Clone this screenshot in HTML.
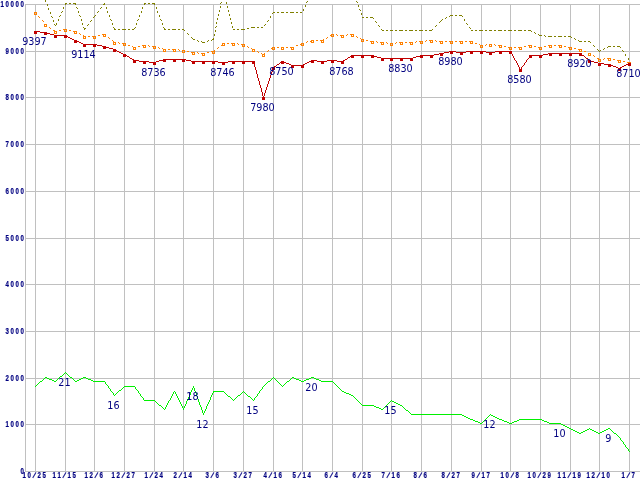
<!DOCTYPE html>
<html><head><meta charset="utf-8"><title>chart</title>
<style>
html,body{margin:0;padding:0;background:#fff;}
body{width:640px;height:480px;overflow:hidden;}
svg{display:block;}
.ax{font-family:"Liberation Sans",Arial,sans-serif;font-weight:bold;font-size:6.1px;fill:#000080;stroke:#000080;stroke-width:0.15px;}
.dl{font-family:"DejaVu Sans Condensed","DejaVu Sans","Liberation Sans",sans-serif;font-stretch:condensed;font-size:10.7px;fill:#000080;text-anchor:middle;}
</style></head><body>
<svg width="640" height="480" viewBox="0 0 640 480">
<rect width="640" height="480" fill="#fff"/>
<g fill="#c0c0c0" shape-rendering="crispEdges">
<rect x="25" y="4" width="615" height="1"/>
<rect x="25" y="51" width="615" height="1"/>
<rect x="25" y="97" width="615" height="1"/>
<rect x="25" y="144" width="615" height="1"/>
<rect x="25" y="191" width="615" height="1"/>
<rect x="25" y="238" width="615" height="1"/>
<rect x="25" y="284" width="615" height="1"/>
<rect x="25" y="331" width="615" height="1"/>
<rect x="25" y="378" width="615" height="1"/>
<rect x="25" y="424" width="615" height="1"/>
<rect x="25" y="471" width="615" height="1"/>
<rect x="25" y="4" width="1" height="468"/>
<rect x="35" y="4" width="1" height="468"/>
<rect x="65" y="4" width="1" height="468"/>
<rect x="94" y="4" width="1" height="468"/>
<rect x="124" y="4" width="1" height="468"/>
<rect x="154" y="4" width="1" height="468"/>
<rect x="183" y="4" width="1" height="468"/>
<rect x="213" y="4" width="1" height="468"/>
<rect x="243" y="4" width="1" height="468"/>
<rect x="273" y="4" width="1" height="468"/>
<rect x="302" y="4" width="1" height="468"/>
<rect x="332" y="4" width="1" height="468"/>
<rect x="362" y="4" width="1" height="468"/>
<rect x="391" y="4" width="1" height="468"/>
<rect x="421" y="4" width="1" height="468"/>
<rect x="451" y="4" width="1" height="468"/>
<rect x="481" y="4" width="1" height="468"/>
<rect x="510" y="4" width="1" height="468"/>
<rect x="540" y="4" width="1" height="468"/>
<rect x="570" y="4" width="1" height="468"/>
<rect x="599" y="4" width="1" height="468"/>
<rect x="629" y="4" width="1" height="468"/>
</g>
<g shape-rendering="crispEdges">
<path fill="#808000" d="M45 0h1v2h-1zM47 4h1v2h-1zM48 8h1v2h-1zM50 12h1v2h-1zM51 16h1v1h-1zM52 17h1v1h-1zM53 20h1v2h-1zM54 24h1v1h-1zM55 25h1v1h-1zM56 23h1v2h-1zM58 19h1v2h-1zM59 16h1v1h-1zM60 15h1v1h-1zM61 12h1v1h-1zM62 11h1v1h-1zM63 7h1v2h-1zM65 3h2v1h-2zM65 4h1v1h-1zM69 3h2v1h-2zM73 3h3v1h-3zM75 4h1v1h-1zM76 7h1v1h-1zM77 8h1v1h-1zM78 11h1v2h-1zM79 15h1v1h-1zM80 16h1v1h-1zM81 19h1v2h-1zM82 23h1v2h-1zM83 27h1v1h-1zM84 28h2v1h-2zM84 29h1v1h-1zM87 25h1v1h-1zM88 24h1v1h-1zM90 21h1v1h-1zM91 20h1v1h-1zM93 17h1v1h-1zM94 16h1v1h-1zM95 15h1v1h-1zM97 12h1v1h-1zM98 11h1v1h-1zM100 8h1v1h-1zM101 7h1v1h-1zM103 4h2v1h-2zM104 3h1v1h-1zM106 7h1v2h-1zM107 11h1v2h-1zM109 15h1v2h-1zM110 19h1v1h-1zM111 20h1v1h-1zM112 23h1v2h-1zM113 27h1v1h-1zM114 28h1v1h-1zM114 29h2v1h-2zM118 29h2v1h-2zM122 29h4v1h-4zM128 29h2v1h-2zM132 29h2v1h-2zM134 28h1v1h-1zM135 27h1v1h-1zM136 23h1v2h-1zM137 20h1v1h-1zM138 19h1v1h-1zM139 15h1v2h-1zM141 11h1v2h-1zM142 7h1v2h-1zM144 3h2v1h-2zM144 4h1v1h-1zM148 3h2v1h-2zM152 3h3v1h-3zM154 4h1v1h-1zM156 7h1v2h-1zM157 11h1v2h-1zM159 15h1v2h-1zM160 19h1v1h-1zM161 20h1v1h-1zM162 23h1v2h-1zM163 27h1v1h-1zM164 28h1v1h-1zM164 29h2v1h-2zM168 29h2v1h-2zM172 29h4v1h-4zM178 29h2v1h-2zM182 29h2v1h-2zM184 30h1v1h-1zM187 33h1v1h-1zM188 34h1v1h-1zM191 37h1v1h-1zM192 38h1v1h-1zM193 39h2v1h-2zM197 40h1v1h-1zM198 41h1v1h-1zM201 41h1v1h-1zM202 42h3v1h-3zM207 41h1v1h-1zM208 40h1v1h-1zM211 40h1v1h-1zM212 39h2v1h-2zM213 38h1v1h-1zM214 34h1v2h-1zM215 27h1v1h-1zM215 30h1v2h-1zM216 22h1v2h-1zM216 26h1v1h-1zM217 18h1v2h-1zM218 14h1v2h-1zM219 10h1v2h-1zM220 3h1v1h-1zM220 6h1v2h-1zM221 2h1v1h-1zM226 2h1v2h-1zM227 6h1v2h-1zM228 10h1v2h-1zM229 14h1v2h-1zM230 18h1v2h-1zM231 22h1v2h-1zM232 26h1v2h-1zM233 29h2v1h-2zM237 29h2v1h-2zM241 29h4v1h-4zM247 28h2v1h-2zM251 27h4v1h-4zM257 27h2v1h-2zM261 27h2v1h-2zM264 25h1v1h-1zM265 24h1v1h-1zM267 21h1v1h-1zM268 20h1v1h-1zM270 16h1v2h-1zM272 13h1v1h-1zM273 12h2v1h-2zM277 12h2v1h-2zM281 12h3v1h-3zM286 12h2v1h-2zM290 12h4v1h-4zM296 12h2v1h-2zM300 12h2v1h-2zM303 9h1v2h-1zM305 5h1v2h-1zM306 2h1v1h-1zM307 1h1v1h-1zM356 1h1v1h-1zM357 2h1v1h-1zM358 5h1v2h-1zM359 9h1v1h-1zM360 10h1v1h-1zM361 13h1v2h-1zM362 17h2v1h-2zM366 17h2v1h-2zM370 17h3v1h-3zM373 18h1v1h-1zM375 21h1v1h-1zM376 22h1v1h-1zM378 25h1v1h-1zM379 26h1v1h-1zM381 29h1v1h-1zM382 30h2v1h-2zM386 30h2v1h-2zM390 30h3v1h-3zM395 30h2v1h-2zM399 30h4v1h-4zM405 30h2v1h-2zM409 30h4v1h-4zM415 30h2v1h-2zM419 30h4v1h-4zM425 30h2v1h-2zM429 30h3v1h-3zM432 29h1v1h-1zM435 26h1v1h-1zM436 25h1v1h-1zM439 22h1v1h-1zM440 21h1v1h-1zM441 20h1v1h-1zM442 19h1v1h-1zM445 18h1v1h-1zM446 17h1v1h-1zM449 16h1v1h-1zM450 15h3v1h-3zM455 15h2v1h-2zM459 15h3v1h-3zM462 16h1v1h-1zM464 19h1v2h-1zM466 23h1v1h-1zM467 24h1v1h-1zM469 27h1v1h-1zM470 28h1v1h-1zM471 30h2v1h-2zM475 30h2v1h-2zM479 30h4v1h-4zM485 30h2v1h-2zM489 30h3v1h-3zM494 30h2v1h-2zM498 30h4v1h-4zM504 30h2v1h-2zM508 30h4v1h-4zM514 30h2v1h-2zM518 30h4v1h-4zM524 30h2v1h-2zM528 30h3v1h-3zM531 31h1v1h-1zM534 32h1v1h-1zM535 33h1v1h-1zM538 34h1v1h-1zM539 35h3v1h-3zM544 35h1v1h-1zM545 36h1v1h-1zM548 36h4v1h-4zM554 36h2v1h-2zM558 36h4v1h-4zM564 36h2v1h-2zM568 36h3v1h-3zM571 37h1v1h-1zM574 38h1v1h-1zM575 39h1v1h-1zM578 40h1v1h-1zM579 41h3v1h-3zM584 41h2v1h-2zM588 41h2v1h-2zM590 42h1v1h-1zM593 45h1v1h-1zM594 46h1v1h-1zM597 49h1v1h-1zM598 50h1v1h-1zM599 51h1v1h-1zM600 50h1v1h-1zM603 49h1v1h-1zM604 48h1v1h-1zM607 47h1v1h-1zM608 46h3v1h-3zM613 46h2v1h-2zM617 46h3v1h-3zM620 47h1v1h-1zM622 50h1v1h-1zM623 51h1v1h-1zM625 54h1v2h-1zM628 58h1v2h-1z"/>
<path fill="#ff8000" d="M35 12h1v1h-1zM36 13h1v1h-1zM38 16h1v1h-1zM39 17h1v1h-1zM42 20h1v1h-1zM43 21h1v1h-1zM45 24h1v1h-1zM46 25h1v1h-1zM49 27h1v1h-1zM50 28h1v1h-1zM53 30h2v1h-2zM55 31h2v1h-2zM59 30h2v1h-2zM63 29h4v1h-4zM69 30h2v1h-2zM73 31h3v1h-3zM76 32h1v1h-1zM79 33h1v1h-1zM80 34h1v1h-1zM83 35h1v1h-1zM84 36h2v1h-2zM88 36h2v1h-2zM92 36h4v1h-4zM98 35h2v1h-2zM102 34h3v1h-3zM105 35h1v1h-1zM108 37h1v1h-1zM109 38h1v1h-1zM112 40h1v1h-1zM113 41h1v1h-1zM114 42h2v1h-2zM118 42h1v1h-1zM119 43h1v1h-1zM122 43h4v1h-4zM128 45h2v1h-2zM132 46h1v1h-1zM133 47h3v1h-3zM138 46h2v1h-2zM142 45h4v1h-4zM148 45h1v1h-1zM149 46h1v1h-1zM152 46h4v1h-4zM158 47h1v1h-1zM159 48h1v1h-1zM162 48h1v1h-1zM163 49h3v1h-3zM168 49h2v1h-2zM172 49h4v1h-4zM178 49h1v1h-1zM179 50h1v1h-1zM182 50h3v1h-3zM187 51h2v1h-2zM191 52h4v1h-4zM197 52h1v1h-1zM198 53h1v1h-1zM201 53h4v1h-4zM207 52h2v1h-2zM211 51h3v1h-3zM214 50h1v1h-1zM217 48h1v1h-1zM218 47h1v1h-1zM221 45h1v1h-1zM222 44h1v1h-1zM223 43h2v1h-2zM227 43h2v1h-2zM231 43h4v1h-4zM237 43h1v1h-1zM238 44h1v1h-1zM241 44h3v1h-3zM244 45h1v1h-1zM247 46h1v1h-1zM248 47h1v1h-1zM251 48h1v1h-1zM252 49h2v1h-2zM254 50h1v1h-1zM257 51h1v1h-1zM258 52h1v1h-1zM261 53h1v1h-1zM262 54h2v1h-2zM264 53h1v1h-1zM267 51h1v1h-1zM268 50h1v1h-1zM271 48h2v1h-2zM273 47h2v1h-2zM277 47h2v1h-2zM281 47h3v1h-3zM286 47h2v1h-2zM290 47h4v1h-4zM296 45h2v1h-2zM300 44h1v1h-1zM301 43h3v1h-3zM306 42h1v1h-1zM307 41h1v1h-1zM310 41h1v1h-1zM311 40h3v1h-3zM316 40h2v1h-2zM320 40h3v1h-3zM323 39h1v1h-1zM326 38h1v1h-1zM327 37h1v1h-1zM330 35h2v1h-2zM332 34h2v1h-2zM336 34h1v1h-1zM337 35h1v1h-1zM340 35h4v1h-4zM346 35h1v1h-1zM347 34h1v1h-1zM350 34h3v1h-3zM353 35h1v1h-1zM356 36h1v1h-1zM357 37h1v1h-1zM360 38h1v1h-1zM361 39h3v1h-3zM366 40h2v1h-2zM370 41h4v1h-4zM376 41h1v1h-1zM377 42h1v1h-1zM380 42h4v1h-4zM386 42h1v1h-1zM387 43h1v1h-1zM390 43h3v1h-3zM395 43h1v1h-1zM396 42h1v1h-1zM399 42h4v1h-4zM405 42h2v1h-2zM409 42h4v1h-4zM415 42h1v1h-1zM416 41h1v1h-1zM419 41h4v1h-4zM425 41h1v1h-1zM426 40h1v1h-1zM429 40h4v1h-4zM435 40h1v1h-1zM436 41h1v1h-1zM439 41h4v1h-4zM445 41h2v1h-2zM449 41h4v1h-4zM455 41h2v1h-2zM459 41h4v1h-4zM465 41h2v1h-2zM469 41h4v1h-4zM475 43h2v1h-2zM479 44h1v1h-1zM480 45h3v1h-3zM485 45h1v1h-1zM486 44h1v1h-1zM489 44h3v1h-3zM494 44h1v1h-1zM495 45h1v1h-1zM498 45h4v1h-4zM504 46h2v1h-2zM508 47h4v1h-4zM514 47h2v1h-2zM518 47h4v1h-4zM524 46h2v1h-2zM528 45h4v1h-4zM534 46h2v1h-2zM538 47h4v1h-4zM544 46h2v1h-2zM548 45h4v1h-4zM554 45h2v1h-2zM558 45h4v1h-4zM564 46h2v1h-2zM568 47h4v1h-4zM574 48h2v1h-2zM578 49h4v1h-4zM584 51h2v1h-2zM588 53h2v1h-2zM590 54h1v1h-1zM593 55h1v1h-1zM594 56h1v1h-1zM597 58h2v1h-2zM599 59h2v1h-2zM603 59h1v1h-1zM604 58h1v1h-1zM607 58h4v1h-4zM613 59h2v1h-2zM617 60h4v1h-4zM623 61h2v1h-2zM627 62h2v1h-2z"/>
<path fill="#ff8000" fill-rule="evenodd" d="M34 12h3v3h-3zM35 13v1h1v-1zM44 24h3v3h-3zM45 25v1h1v-1zM54 31h3v3h-3zM55 32v1h1v-1zM64 29h3v3h-3zM65 30v1h1v-1zM74 31h3v3h-3zM75 32v1h1v-1zM83 36h3v3h-3zM84 37v1h1v-1zM93 36h3v3h-3zM94 37v1h1v-1zM103 34h3v3h-3zM104 35v1h1v-1zM113 42h3v3h-3zM114 43v1h1v-1zM123 43h3v3h-3zM124 44v1h1v-1zM133 47h3v3h-3zM134 48v1h1v-1zM143 45h3v3h-3zM144 46v1h1v-1zM153 46h3v3h-3zM154 47v1h1v-1zM163 49h3v3h-3zM164 50v1h1v-1zM173 49h3v3h-3zM174 50v1h1v-1zM182 50h3v3h-3zM183 51v1h1v-1zM192 52h3v3h-3zM193 53v1h1v-1zM202 53h3v3h-3zM203 54v1h1v-1zM212 51h3v3h-3zM213 52v1h1v-1zM222 43h3v3h-3zM223 44v1h1v-1zM232 43h3v3h-3zM233 44v1h1v-1zM242 44h3v3h-3zM243 45v1h1v-1zM252 49h3v3h-3zM253 50v1h1v-1zM262 54h3v3h-3zM263 55v1h1v-1zM272 47h3v3h-3zM273 48v1h1v-1zM281 47h3v3h-3zM282 48v1h1v-1zM291 47h3v3h-3zM292 48v1h1v-1zM301 43h3v3h-3zM302 44v1h1v-1zM311 40h3v3h-3zM312 41v1h1v-1zM321 40h3v3h-3zM322 41v1h1v-1zM331 34h3v3h-3zM332 35v1h1v-1zM341 35h3v3h-3zM342 36v1h1v-1zM351 34h3v3h-3zM352 35v1h1v-1zM361 39h3v3h-3zM362 40v1h1v-1zM371 41h3v3h-3zM372 42v1h1v-1zM381 42h3v3h-3zM382 43v1h1v-1zM390 43h3v3h-3zM391 44v1h1v-1zM400 42h3v3h-3zM401 43v1h1v-1zM410 42h3v3h-3zM411 43v1h1v-1zM420 41h3v3h-3zM421 42v1h1v-1zM430 40h3v3h-3zM431 41v1h1v-1zM440 41h3v3h-3zM441 42v1h1v-1zM450 41h3v3h-3zM451 42v1h1v-1zM460 41h3v3h-3zM461 42v1h1v-1zM470 41h3v3h-3zM471 42v1h1v-1zM480 45h3v3h-3zM481 46v1h1v-1zM489 44h3v3h-3zM490 45v1h1v-1zM499 45h3v3h-3zM500 46v1h1v-1zM509 47h3v3h-3zM510 48v1h1v-1zM519 47h3v3h-3zM520 48v1h1v-1zM529 45h3v3h-3zM530 46v1h1v-1zM539 47h3v3h-3zM540 48v1h1v-1zM549 45h3v3h-3zM550 46v1h1v-1zM559 45h3v3h-3zM560 46v1h1v-1zM569 47h3v3h-3zM570 48v1h1v-1zM579 49h3v3h-3zM580 50v1h1v-1zM588 53h3v3h-3zM589 54v1h1v-1zM598 59h3v3h-3zM599 60v1h1v-1zM608 58h3v3h-3zM609 59v1h1v-1zM618 60h3v3h-3zM619 61v1h1v-1zM628 62h3v3h-3zM629 63v1h1v-1z"/>
<path fill="#c00000" d="M35 31h5v1h-5zM40 32h7v1h-7zM47 33h3v1h-3zM50 34h4v1h-4zM54 35h12v1h-12zM66 36h2v1h-2zM68 37h2v1h-2zM70 38h2v1h-2zM72 39h2v1h-2zM74 40h3v1h-3zM77 41h2v1h-2zM79 42h2v1h-2zM81 43h2v1h-2zM83 44h14v1h-14zM97 45h5v1h-5zM102 46h4v1h-4zM106 47h3v1h-3zM109 48h4v1h-4zM113 49h2v1h-2zM115 50h2v1h-2zM117 51h2v1h-2zM119 52h2v1h-2zM121 53h2v1h-2zM123 54h2v1h-2zM125 55h2v1h-2zM127 56h2v1h-2zM129 57h1v1h-1zM130 58h2v1h-2zM132 59h2v1h-2zM134 60h5v1h-5zM139 61h10v1h-10zM149 62h7v1h-7zM156 61h3v1h-3zM159 60h4v1h-4zM163 59h23v1h-23zM186 60h5v1h-5zM191 61h27v1h-27zM218 62h10v1h-10zM228 61h26v1h-26zM253 62h1v1h-1zM254 63h1v4h-1zM255 67h1v3h-1zM256 70h1v4h-1zM257 74h1v4h-1zM258 78h1v3h-1zM259 81h1v4h-1zM260 85h1v3h-1zM261 88h1v4h-1zM262 92h1v4h-1zM263 96h1v2h-1zM264 93h1v3h-1zM265 90h1v3h-1zM266 87h1v3h-1zM267 84h1v3h-1zM268 81h1v3h-1zM269 78h1v3h-1zM270 75h1v3h-1zM271 72h1v3h-1zM272 69h1v3h-1zM273 67h1v2h-1zM274 66h2v1h-2zM276 65h1v1h-1zM277 64h2v1h-2zM279 63h1v1h-1zM280 62h2v1h-2zM282 61h2v1h-2zM284 62h2v1h-2zM286 63h3v1h-3zM289 64h2v1h-2zM291 65h12v1h-12zM303 64h2v1h-2zM305 63h2v1h-2zM307 62h2v1h-2zM309 61h2v1h-2zM311 60h6v1h-6zM317 61h10v1h-10zM327 60h10v1h-10zM337 61h6v1h-6zM343 60h2v1h-2zM345 59h2v1h-2zM347 58h1v1h-1zM348 57h2v1h-2zM350 56h2v1h-2zM352 55h22v1h-22zM374 56h3v1h-3zM377 57h4v1h-4zM381 58h32v1h-32zM413 57h3v1h-3zM416 56h4v1h-4zM420 55h14v1h-14zM434 54h5v1h-5zM439 53h5v1h-5zM444 52h5v1h-5zM449 51h7v1h-7zM456 52h10v1h-10zM466 51h20v1h-20zM486 52h9v1h-9zM495 51h16v1h-16zM511 52h1v2h-1zM512 54h1v2h-1zM513 56h1v2h-1zM514 58h1v2h-1zM515 60h1v1h-1zM516 61h1v2h-1zM517 63h1v2h-1zM518 65h1v2h-1zM519 67h1v2h-1zM520 69h1v1h-1zM521 67h1v2h-1zM522 66h1v1h-1zM523 65h1v1h-1zM524 63h1v2h-1zM525 62h1v1h-1zM526 60h1v2h-1zM527 59h1v1h-1zM528 58h1v1h-1zM529 56h1v2h-1zM530 55h13v1h-13zM543 54h5v1h-5zM548 53h33v1h-33zM581 54h1v1h-1zM582 55h2v1h-2zM584 56h1v1h-1zM585 57h1v1h-1zM586 58h2v1h-2zM588 59h1v1h-1zM589 60h2v1h-2zM591 61h3v1h-3zM594 62h4v1h-4zM598 63h6v1h-6zM604 64h7v1h-7zM611 65h2v1h-2zM613 66h3v1h-3zM616 67h2v1h-2zM618 68h2v1h-2zM620 67h2v1h-2zM622 66h2v1h-2zM624 65h2v1h-2zM626 64h2v1h-2zM628 63h2v1h-2z"/>
<path fill="#c00000" d="M34 31h3v3h-3zM44 32h3v3h-3zM54 35h3v3h-3zM64 35h3v3h-3zM74 40h3v3h-3zM83 44h3v3h-3zM93 44h3v3h-3zM103 46h3v3h-3zM113 49h3v3h-3zM123 54h3v3h-3zM133 60h3v3h-3zM143 61h3v3h-3zM153 62h3v3h-3zM163 59h3v3h-3zM173 59h3v3h-3zM182 59h3v3h-3zM192 61h3v3h-3zM202 61h3v3h-3zM212 61h3v3h-3zM222 62h3v3h-3zM232 61h3v3h-3zM242 61h3v3h-3zM252 61h3v3h-3zM262 97h3v3h-3zM272 67h3v3h-3zM281 61h3v3h-3zM291 65h3v3h-3zM301 65h3v3h-3zM311 60h3v3h-3zM321 61h3v3h-3zM331 60h3v3h-3zM341 61h3v3h-3zM351 55h3v3h-3zM361 55h3v3h-3zM371 55h3v3h-3zM381 58h3v3h-3zM390 58h3v3h-3zM400 58h3v3h-3zM410 58h3v3h-3zM420 55h3v3h-3zM430 55h3v3h-3zM440 53h3v3h-3zM450 51h3v3h-3zM460 52h3v3h-3zM470 51h3v3h-3zM480 51h3v3h-3zM489 52h3v3h-3zM499 51h3v3h-3zM509 51h3v3h-3zM519 69h3v3h-3zM529 55h3v3h-3zM539 55h3v3h-3zM549 53h3v3h-3zM559 53h3v3h-3zM569 53h3v3h-3zM579 53h3v3h-3zM588 60h3v3h-3zM598 63h3v3h-3zM608 64h3v3h-3zM618 68h3v3h-3zM628 63h3v3h-3z"/>
<path fill="#00f000" d="M35 386h1v1h-1zM36 385h1v1h-1zM37 384h1v1h-1zM38 383h1v1h-1zM39 382h1v1h-1zM40 381h2v1h-2zM42 380h1v1h-1zM43 379h1v1h-1zM44 378h1v1h-1zM45 377h2v1h-2zM47 378h2v1h-2zM49 379h3v1h-3zM52 380h2v1h-2zM54 381h2v1h-2zM56 380h1v1h-1zM57 379h1v1h-1zM58 378h1v1h-1zM59 377h1v1h-1zM60 376h2v1h-2zM62 375h1v1h-1zM63 374h1v1h-1zM64 373h1v1h-1zM65 372h1v1h-1zM66 373h1v1h-1zM67 374h1v1h-1zM68 375h1v1h-1zM69 376h1v1h-1zM70 377h2v1h-2zM72 378h1v1h-1zM73 379h1v1h-1zM74 380h1v1h-1zM75 381h2v1h-2zM77 380h2v1h-2zM79 379h2v1h-2zM81 378h2v1h-2zM83 377h3v1h-3zM86 378h2v1h-2zM88 379h3v1h-3zM91 380h2v1h-2zM93 381h12v1h-12zM105 382h1v2h-1zM106 384h1v1h-1zM107 385h1v1h-1zM108 386h1v2h-1zM109 388h1v1h-1zM110 389h1v2h-1zM111 391h1v1h-1zM112 392h1v1h-1zM113 393h1v2h-1zM114 395h1v1h-1zM115 394h1v1h-1zM116 393h1v1h-1zM117 392h1v1h-1zM118 391h1v1h-1zM119 390h2v1h-2zM121 389h1v1h-1zM122 388h1v1h-1zM123 387h1v1h-1zM124 386h11v1h-11zM135 387h1v2h-1zM136 389h1v1h-1zM137 390h1v1h-1zM138 391h1v2h-1zM139 393h1v1h-1zM140 394h1v2h-1zM141 396h1v1h-1zM142 397h1v1h-1zM143 398h1v2h-1zM144 400h11v1h-11zM155 401h1v1h-1zM156 402h1v1h-1zM157 403h1v1h-1zM158 404h1v1h-1zM159 405h2v1h-2zM161 406h1v1h-1zM162 407h1v1h-1zM163 408h1v1h-1zM164 409h1v1h-1zM165 407h1v2h-1zM166 405h1v2h-1zM167 403h1v2h-1zM168 401h1v2h-1zM169 400h1v1h-1zM170 398h1v2h-1zM171 396h1v2h-1zM172 394h1v2h-1zM173 392h1v2h-1zM174 391h1v1h-1zM175 392h1v2h-1zM176 394h1v2h-1zM177 396h1v2h-1zM178 398h1v2h-1zM179 400h1v2h-1zM180 402h1v2h-1zM181 404h1v2h-1zM182 406h1v2h-1zM183 408h1v2h-1zM184 406h1v2h-1zM185 404h1v2h-1zM186 401h1v3h-1zM187 399h1v2h-1zM188 397h1v2h-1zM189 395h1v2h-1zM190 392h1v3h-1zM191 390h1v2h-1zM192 388h1v2h-1zM193 386h1v2h-1zM194 388h1v3h-1zM195 391h1v2h-1zM196 393h1v3h-1zM197 396h1v3h-1zM198 399h1v3h-1zM199 402h1v3h-1zM200 405h1v2h-1zM201 407h1v3h-1zM202 410h1v3h-1zM203 413h1v2h-1zM204 411h1v2h-1zM205 409h1v2h-1zM206 406h1v3h-1zM207 404h1v2h-1zM208 402h1v2h-1zM209 400h1v2h-1zM210 397h1v3h-1zM211 395h1v2h-1zM212 393h1v2h-1zM213 391h11v1h-11zM213 392h1v1h-1zM224 392h1v1h-1zM225 393h1v1h-1zM226 394h1v1h-1zM227 395h1v1h-1zM228 396h2v1h-2zM230 397h1v1h-1zM231 398h1v1h-1zM232 399h1v1h-1zM233 400h1v1h-1zM234 399h1v1h-1zM235 398h1v1h-1zM236 397h1v1h-1zM237 396h1v1h-1zM238 395h2v1h-2zM240 394h1v1h-1zM241 393h1v1h-1zM242 392h1v1h-1zM243 391h1v1h-1zM244 392h1v1h-1zM245 393h1v1h-1zM246 394h1v1h-1zM247 395h1v1h-1zM248 396h2v1h-2zM250 397h1v1h-1zM251 398h1v1h-1zM252 399h1v1h-1zM253 400h1v1h-1zM254 398h1v2h-1zM255 397h1v1h-1zM256 396h1v1h-1zM257 394h1v2h-1zM258 393h1v1h-1zM259 391h1v2h-1zM260 390h1v1h-1zM261 389h1v1h-1zM262 387h1v2h-1zM263 386h1v1h-1zM264 385h1v1h-1zM265 384h1v1h-1zM266 383h1v1h-1zM267 382h1v1h-1zM268 381h2v1h-2zM270 380h1v1h-1zM271 379h1v1h-1zM272 378h1v1h-1zM273 377h1v1h-1zM274 378h1v1h-1zM275 379h1v1h-1zM276 380h1v1h-1zM277 381h1v1h-1zM278 382h1v1h-1zM279 383h1v1h-1zM280 384h1v1h-1zM281 385h1v1h-1zM282 386h1v1h-1zM283 385h1v1h-1zM284 384h1v1h-1zM285 383h1v1h-1zM286 382h1v1h-1zM287 381h2v1h-2zM289 380h1v1h-1zM290 379h1v1h-1zM291 378h1v1h-1zM292 377h2v1h-2zM294 378h2v1h-2zM296 379h3v1h-3zM299 380h2v1h-2zM301 381h3v1h-3zM304 380h2v1h-2zM306 379h3v1h-3zM309 378h2v1h-2zM311 377h3v1h-3zM314 378h2v1h-2zM316 379h3v1h-3zM319 380h2v1h-2zM321 381h12v1h-12zM333 382h1v1h-1zM334 383h1v1h-1zM335 384h1v1h-1zM336 385h1v1h-1zM337 386h1v1h-1zM338 387h1v1h-1zM339 388h1v1h-1zM340 389h1v1h-1zM341 390h1v1h-1zM342 391h2v1h-2zM344 392h2v1h-2zM346 393h3v1h-3zM349 394h2v1h-2zM351 395h2v1h-2zM353 396h1v1h-1zM354 397h1v1h-1zM355 398h1v1h-1zM356 399h1v1h-1zM357 400h1v1h-1zM358 401h1v1h-1zM359 402h1v1h-1zM360 403h1v1h-1zM361 404h1v1h-1zM362 405h12v1h-12zM374 406h2v1h-2zM376 407h3v1h-3zM379 408h2v1h-2zM381 409h2v1h-2zM383 408h1v1h-1zM384 407h1v1h-1zM385 406h1v1h-1zM386 405h1v1h-1zM387 404h1v1h-1zM388 403h1v1h-1zM389 402h1v1h-1zM390 401h1v1h-1zM391 400h1v1h-1zM392 401h2v1h-2zM394 402h2v1h-2zM396 403h2v1h-2zM398 404h2v1h-2zM400 405h2v1h-2zM402 406h1v1h-1zM403 407h1v1h-1zM404 408h1v1h-1zM405 409h1v1h-1zM406 410h2v1h-2zM408 411h1v1h-1zM409 412h1v1h-1zM410 413h1v1h-1zM411 414h51v1h-51zM462 415h2v1h-2zM464 416h2v1h-2zM466 417h2v1h-2zM468 418h2v1h-2zM470 419h3v1h-3zM473 420h2v1h-2zM475 421h3v1h-3zM478 422h2v1h-2zM480 423h2v1h-2zM482 422h1v1h-1zM483 421h1v1h-1zM484 420h1v1h-1zM485 419h1v1h-1zM486 418h1v1h-1zM487 417h1v1h-1zM488 416h1v1h-1zM489 415h1v1h-1zM490 414h1v1h-1zM491 415h2v1h-2zM493 416h2v1h-2zM495 417h2v1h-2zM497 418h2v1h-2zM499 419h3v1h-3zM502 420h2v1h-2zM504 421h3v1h-3zM507 422h2v1h-2zM509 423h3v1h-3zM512 422h2v1h-2zM514 421h3v1h-3zM517 420h2v1h-2zM519 419h23v1h-23zM542 420h2v1h-2zM544 421h3v1h-3zM547 422h2v1h-2zM549 423h12v1h-12zM561 424h2v1h-2zM563 425h2v1h-2zM565 426h2v1h-2zM567 427h2v1h-2zM569 428h2v1h-2zM571 429h2v1h-2zM573 430h2v1h-2zM575 431h2v1h-2zM577 432h2v1h-2zM579 433h2v1h-2zM581 432h2v1h-2zM583 431h2v1h-2zM585 430h2v1h-2zM587 429h2v1h-2zM589 428h1v1h-1zM590 429h2v1h-2zM592 430h2v1h-2zM594 431h2v1h-2zM596 432h2v1h-2zM598 433h2v1h-2zM600 432h2v1h-2zM602 431h2v1h-2zM604 430h2v1h-2zM606 429h2v1h-2zM608 428h2v1h-2zM610 429h1v1h-1zM611 430h1v1h-1zM612 431h1v1h-1zM613 432h1v1h-1zM614 433h2v1h-2zM616 434h1v1h-1zM617 435h1v1h-1zM618 436h1v1h-1zM619 437h1v1h-1zM620 438h1v2h-1zM621 440h1v1h-1zM622 441h1v1h-1zM623 442h1v2h-1zM624 444h1v1h-1zM625 445h1v2h-1zM626 447h1v1h-1zM627 448h1v1h-1zM628 449h1v2h-1zM629 451h1v1h-1z"/>
</g>
<g class="ax">
<text transform="translate(0,7.3) scale(1,1.52)" x="0.4 5.4 10.4 15.4 20.4">10000</text>
<text transform="translate(5,54.3) scale(1,1.52)" x="0.4 5.4 10.4 15.4">9000</text>
<text transform="translate(5,100.3) scale(1,1.52)" x="0.4 5.4 10.4 15.4">8000</text>
<text transform="translate(5,147.3) scale(1,1.52)" x="0.4 5.4 10.4 15.4">7000</text>
<text transform="translate(5,194.3) scale(1,1.52)" x="0.4 5.4 10.4 15.4">6000</text>
<text transform="translate(5,241.3) scale(1,1.52)" x="0.4 5.4 10.4 15.4">5000</text>
<text transform="translate(5,287.3) scale(1,1.52)" x="0.4 5.4 10.4 15.4">4000</text>
<text transform="translate(5,334.3) scale(1,1.52)" x="0.4 5.4 10.4 15.4">3000</text>
<text transform="translate(5,381.3) scale(1,1.52)" x="0.4 5.4 10.4 15.4">2000</text>
<text transform="translate(5,427.3) scale(1,1.52)" x="0.4 5.4 10.4 15.4">1000</text>
<text transform="translate(20,474.3) scale(1,1.52)" x="0.4">0</text>
<text transform="translate(22,478.4) scale(1,1.52)" x="0.4 5.4 10.4 15.4 20.4">10<tspan font-size="6.2" rotate="31.0" dy="-0.75">/</tspan><tspan dy="0.75">25</tspan></text>
<text transform="translate(52,478.4) scale(1,1.52)" x="0.4 5.4 10.4 15.4 20.4">11<tspan font-size="6.2" rotate="31.0" dy="-0.75">/</tspan><tspan dy="0.75">15</tspan></text>
<text transform="translate(84,478.4) scale(1,1.52)" x="0.4 5.4 10.4 15.4">12<tspan font-size="6.2" rotate="31.0" dy="-0.75">/</tspan><tspan dy="0.75">6</tspan></text>
<text transform="translate(111,478.4) scale(1,1.52)" x="0.4 5.4 10.4 15.4 20.4">12<tspan font-size="6.2" rotate="31.0" dy="-0.75">/</tspan><tspan dy="0.75">27</tspan></text>
<text transform="translate(144,478.4) scale(1,1.52)" x="0.4 5.4 10.4 15.4">1<tspan font-size="6.2" rotate="31.0" dy="-0.75">/</tspan><tspan dy="0.75">24</tspan></text>
<text transform="translate(173,478.4) scale(1,1.52)" x="0.4 5.4 10.4 15.4">2<tspan font-size="6.2" rotate="31.0" dy="-0.75">/</tspan><tspan dy="0.75">14</tspan></text>
<text transform="translate(205,478.4) scale(1,1.52)" x="0.4 5.4 10.4">3<tspan font-size="6.2" rotate="31.0" dy="-0.75">/</tspan><tspan dy="0.75">6</tspan></text>
<text transform="translate(233,478.4) scale(1,1.52)" x="0.4 5.4 10.4 15.4">3<tspan font-size="6.2" rotate="31.0" dy="-0.75">/</tspan><tspan dy="0.75">27</tspan></text>
<text transform="translate(263,478.4) scale(1,1.52)" x="0.4 5.4 10.4 15.4">4<tspan font-size="6.2" rotate="31.0" dy="-0.75">/</tspan><tspan dy="0.75">16</tspan></text>
<text transform="translate(292,478.4) scale(1,1.52)" x="0.4 5.4 10.4 15.4">5<tspan font-size="6.2" rotate="31.0" dy="-0.75">/</tspan><tspan dy="0.75">14</tspan></text>
<text transform="translate(324,478.4) scale(1,1.52)" x="0.4 5.4 10.4">6<tspan font-size="6.2" rotate="31.0" dy="-0.75">/</tspan><tspan dy="0.75">4</tspan></text>
<text transform="translate(352,478.4) scale(1,1.52)" x="0.4 5.4 10.4 15.4">6<tspan font-size="6.2" rotate="31.0" dy="-0.75">/</tspan><tspan dy="0.75">25</tspan></text>
<text transform="translate(381,478.4) scale(1,1.52)" x="0.4 5.4 10.4 15.4">7<tspan font-size="6.2" rotate="31.0" dy="-0.75">/</tspan><tspan dy="0.75">16</tspan></text>
<text transform="translate(413,478.4) scale(1,1.52)" x="0.4 5.4 10.4">8<tspan font-size="6.2" rotate="31.0" dy="-0.75">/</tspan><tspan dy="0.75">6</tspan></text>
<text transform="translate(441,478.4) scale(1,1.52)" x="0.4 5.4 10.4 15.4">8<tspan font-size="6.2" rotate="31.0" dy="-0.75">/</tspan><tspan dy="0.75">27</tspan></text>
<text transform="translate(471,478.4) scale(1,1.52)" x="0.4 5.4 10.4 15.4">9<tspan font-size="6.2" rotate="31.0" dy="-0.75">/</tspan><tspan dy="0.75">17</tspan></text>
<text transform="translate(500,478.4) scale(1,1.52)" x="0.4 5.4 10.4 15.4">10<tspan font-size="6.2" rotate="31.0" dy="-0.75">/</tspan><tspan dy="0.75">8</tspan></text>
<text transform="translate(527,478.4) scale(1,1.52)" x="0.4 5.4 10.4 15.4 20.4">10<tspan font-size="6.2" rotate="31.0" dy="-0.75">/</tspan><tspan dy="0.75">29</tspan></text>
<text transform="translate(557,478.4) scale(1,1.52)" x="0.4 5.4 10.4 15.4 20.4">11<tspan font-size="6.2" rotate="31.0" dy="-0.75">/</tspan><tspan dy="0.75">19</tspan></text>
<text transform="translate(586,478.4) scale(1,1.52)" x="0.4 5.4 10.4 15.4 20.4">12<tspan font-size="6.2" rotate="31.0" dy="-0.75">/</tspan><tspan dy="0.75">10</tspan></text>
<text transform="translate(621,478.4) scale(1,1.52)" x="0.4 5.4 10.4">1<tspan font-size="6.2" rotate="31.0" dy="-0.75">/</tspan><tspan dy="0.75">7</tspan></text>
</g>
<g class="dl">
<text x="34.4" y="44.6">9397</text>
<text x="83.4" y="57.6">9114</text>
<text x="153.4" y="75.6">8736</text>
<text x="222.4" y="75.6">8746</text>
<text x="262.4" y="110.6">7980</text>
<text x="281.4" y="74.6">8750</text>
<text x="341.4" y="74.6">8768</text>
<text x="400.4" y="71.6">8830</text>
<text x="450.4" y="64.6">8980</text>
<text x="519.4" y="82.6">8580</text>
<text x="579.4" y="66.6">8920</text>
<text x="628.4" y="76.6">8710</text>
<text x="64.4" y="385.6">21</text>
<text x="113.4" y="408.6">16</text>
<text x="192.4" y="399.6">18</text>
<text x="202.4" y="427.6">12</text>
<text x="252.4" y="413.6">15</text>
<text x="311.4" y="390.6">20</text>
<text x="390.4" y="413.6">15</text>
<text x="489.4" y="427.6">12</text>
<text x="559.4" y="436.6">10</text>
<text x="608.4" y="441.6">9</text>
</g>
</svg></body></html>
